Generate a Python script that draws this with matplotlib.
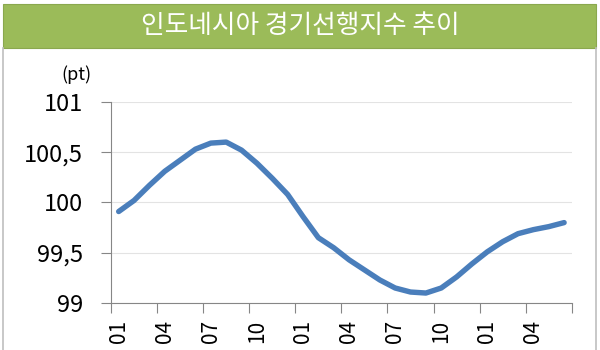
import numpy as np
import matplotlib.pyplot as plt
from matplotlib.patches import Rectangle
from matplotlib.lines import Line2D

plt.rcParams['font.family'] = ['Noto Sans CJK KR', 'DejaVu Sans']

# monthly index values (pt), 30 months
values = [99.91, 100.02, 100.17, 100.31, 100.42, 100.53, 100.59, 100.60, 100.52, 100.39,
          100.24, 100.08, 99.86, 99.65, 99.55, 99.43, 99.33, 99.23, 99.15, 99.11,
          99.10, 99.15, 99.26, 99.39, 99.51, 99.61, 99.69, 99.73, 99.76, 99.80]
month_labels = ['01', '04', '07', '10', '01', '04', '07', '10', '01', '04']
y_ticks = [99, 99.5, 100, 100.5, 101]
y_labels = ['99', '99,5', '100', '100,5', '101']
title = '인도네시아 경기선행지수 추이'

fig = plt.figure(figsize=(6, 3.5), dpi=100)

# green title banner and frame
fig.patches.append(Rectangle((0.005, 0.863), 0.988, 0.126, transform=fig.transFigure,
                             facecolor='#9bbb59', edgecolor='#8aa84e', linewidth=0.8))
fig.text(0.5, 0.926, title, color='white', fontsize=18.5, ha='center', va='center')
fig.lines.append(Line2D([0.005, 0.005], [0, 0.863], transform=fig.transFigure, color='#bfbfbf', lw=1.2))
fig.lines.append(Line2D([0.993, 0.993], [0, 0.863], transform=fig.transFigure, color='#bfbfbf', lw=1.2))

ax = fig.add_axes([0.185, 0.134, 0.768, 0.575])
x = np.arange(len(values))
ax.plot(x, values, color='#4a7ebb', linewidth=3.9, solid_capstyle='round')

ax.set_xlim(-0.5, len(values) - 0.5)
ax.set_ylim(99, 101)
ax.set_yticks(y_ticks)
ax.set_yticklabels(y_labels, fontsize=17)
ax.yaxis.grid(True, color='#e3e3e3', linewidth=0.8)
ax.set_axisbelow(True)

# ticks at category boundaries, labels at category centres
ax.set_xticks(np.arange(-0.5, len(values), 3))
ax.set_xticklabels([])
ax.set_xticks(np.arange(0, len(values), 3), minor=True)
ax.set_xticklabels(month_labels, minor=True, rotation=90, fontsize=15)
ax.tick_params(axis='x', which='minor', length=0, pad=12)
ax.tick_params(axis='x', which='major', length=7, direction='out', color='#868686')
ax.tick_params(axis='y', length=7, direction='out', color='#868686', pad=13)

for s in ['top', 'right']:
    ax.spines[s].set_visible(False)
for s in ['left', 'bottom']:
    ax.spines[s].set_color('#868686')

fig.text(0.128, 0.786, '(pt)', fontsize=13, ha='center', va='center')

fig.savefig('out.png', dpi=100)
